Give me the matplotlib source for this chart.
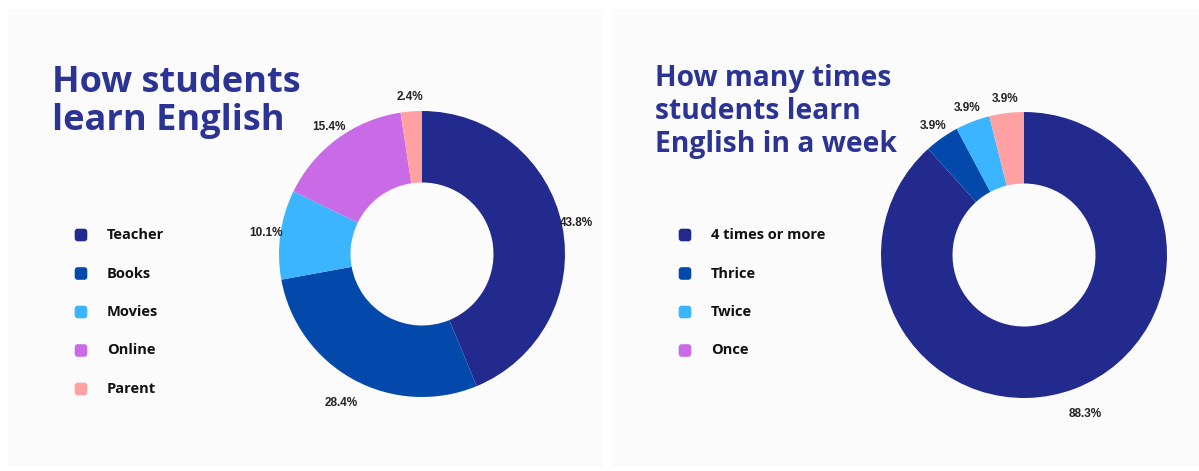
import numpy as np
import matplotlib
matplotlib.use("Agg")
import matplotlib.pyplot as plt
from matplotlib.patches import Rectangle, FancyBboxPatch

# data for the two donuts
source_labels = ["Teacher", "Books", "Movies", "Online", "Parent"]
source_values = [43.8, 28.4, 10.1, 15.4, 2.4]

freq_labels = ["4 times or more", "Thrice", "Twice", "Once"]
freq_values = [88.3, 3.9, 3.9, 3.9]

left_title = ["How students", "learn English"]
right_title = ["How many times", "students learn", "English in a week"]

# colours
NAVY = "#222b8d"
BLUE = "#0349ab"
SKY = "#3bb5ff"
PURPLE = "#c96be6"
PINK = "#ffa0a2"
TITLE = "#2b3495"
PANEL = "#fbfbfb"

source_colors = [NAVY, BLUE, SKY, PURPLE, PINK]
freq_slice_colors = [NAVY, BLUE, SKY, PINK]
freq_legend_colors = [NAVY, BLUE, SKY, PURPLE]

W, H = 1199, 471
fig = plt.figure(figsize=(W / 100, H / 100), dpi=100)
fig.patch.set_facecolor("white")

# background layer in pixel units
bg = fig.add_axes([0, 0, 1, 1])
bg.set_xlim(0, W)
bg.set_ylim(H, 0)
bg.axis("off")
bg.add_patch(Rectangle((8, 9), 595, 458, color=PANEL, lw=0))
bg.add_patch(Rectangle((612, 9), 600, 458, color=PANEL, lw=0))


def draw_title(x, y0, lines, size, step):
    # one text per line so each baseline sits where we want it
    for i, line in enumerate(lines):
        bg.text(x, y0 + i * step, line, fontsize=size, fontweight="bold",
                color=TITLE, family="Open Sans", va="baseline", ha="left")


draw_title(52, 92, left_title, 26, 38)
draw_title(655, 86, right_title, 20.3, 33)


def draw_legend(x, y0, labels, colors, step=38.5):
    for i, (lab, col) in enumerate(zip(labels, colors)):
        y = y0 + i * step
        bg.add_patch(FancyBboxPatch((x - 4.5, y - 4.5), 9, 9,
                                    boxstyle="round,pad=1.8,rounding_size=3",
                                    fc=col, ec="none"))
        bg.text(x + 26, y, lab, fontsize=10.5, fontweight="bold", color="#111111",
                family="Open Sans", va="center", ha="left")


draw_legend(81, 235, source_labels, source_colors)
draw_legend(685, 235, freq_labels, freq_legend_colors)


def draw_donut(cx, cy, r, values, colors):
    ax = fig.add_axes([(cx - r) / W, 1 - (cy + r) / H, 2 * r / W, 2 * r / H])
    wedges, _ = ax.pie(values, colors=colors, startangle=90, counterclock=False,
                       radius=1, wedgeprops=dict(width=0.5, linewidth=0))
    ax.set_xlim(-1, 1)
    ax.set_ylim(-1, 1)
    ax.set_aspect("equal")
    ax.axis("off")
    for w, v in zip(wedges, values):
        ang = np.deg2rad((w.theta1 + w.theta2) / 2)
        d = 1.1 + 0.1 * max(0, -np.sin(ang))
        ax.text(d * np.cos(ang), d * np.sin(ang), f"{v}%", ha="center", va="center",
                fontsize=8.5, fontweight="bold", color="#222222",
                family="Liberation Sans", clip_on=False)
    return ax


draw_donut(422, 254, 143, source_values, source_colors)
draw_donut(1024, 255, 143, freq_values, freq_slice_colors)

fig.savefig("out.png", dpi=100, facecolor="white")
